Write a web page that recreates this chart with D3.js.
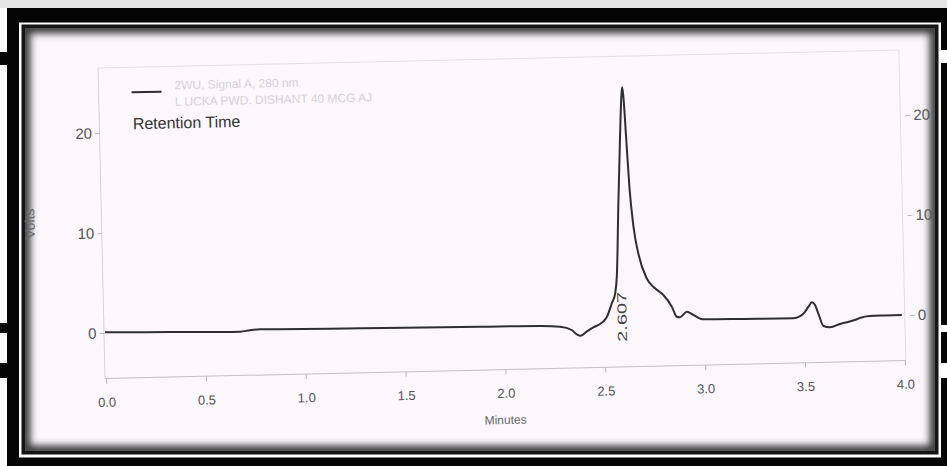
<!DOCTYPE html>
<html>
<head>
<meta charset="utf-8">
<script src="https://cdn.jsdelivr.net/npm/d3@7"></script>
<style>
html,body{margin:0;padding:0;background:#fff;overflow:hidden}
svg{display:block}
text{font-family:"Liberation Sans",Arial,Helvetica,sans-serif}
</style>
</head>
<body>
<svg id="chart" width="947" height="466"></svg>
<script>
// ---- data ----
const times = [0.000,0.325,0.676,0.726,0.776,1.126,1.502,1.877,2.178,2.278,2.336,2.361,2.381,2.411,2.445,2.479,2.505,2.514,2.540,2.558,2.568,2.584,2.600,2.611,2.616,2.621,2.630,2.641,2.657,2.678,2.717,2.758,2.799,2.840,2.864,2.880,2.915,2.947,2.997,3.200,3.445,3.496,3.524,3.541,3.557,3.572,3.597,3.630,3.680,3.715,3.765,3.780,3.830,3.900,3.990];
const volts = [0.07,-0.05,-0.17,-0.05,0.02,-0.08,-0.15,-0.22,-0.28,-0.39,-0.75,-1.19,-1.34,-0.95,-0.53,-0.21,0.24,0.50,1.83,2.82,4.48,11.8,18.5,22.5,23.4,22.5,18.5,13.45,9.44,6.77,4.25,3.23,2.54,1.35,0.34,0.28,0.82,0.48,0.02,-0.03,-0.08,0.33,1.05,1.48,1.20,0.36,-0.92,-1.06,-0.75,-0.60,-0.32,-0.20,-0.02,0.00,0.01];
const xTickValues = [0,0.5,1,1.5,2,2.5,3,3.5,4];
const xTickLabels = ["0.0","0.5","1.0","1.5","2.0","2.5","3.0","3.5","4.0"];
const yTickValues = [0,10,20];
const yTickLabels = ["0","10","20"];
const peakTime = 2.607;
const peakLabel = "2.607";
const legendLabel = "Retention Time";
const headerLines = ["2WU, Signal A, 280 nm","L UCKA PWD. DISHANT 40 MCG AJ"];
const xTitle = "Minutes";
const yTitle = "Volts";

// ---- layout ----
const W = 947, H = 466;
const svg = d3.select("#chart");
const defs = svg.append("defs");

// frame
svg.append("rect").attr("x",0).attr("y",0).attr("width",W).attr("height",H).attr("fill","#ffffff");
svg.append("rect").attr("x",0).attr("y",0).attr("width",W).attr("height",8).attr("fill","#e6e6e6");
svg.append("rect").attr("x",7).attr("y",8).attr("width",940).attr("height",458).attr("fill","#050505");
[[52,65],[323,333],[363,378]].forEach(r=>{
  svg.append("rect").attr("x",0).attr("y",r[0]).attr("width",7).attr("height",r[1]-r[0]).attr("fill","#050505");
});
[[50,63],[325,332],[363,378]].forEach(r=>{
  svg.append("rect").attr("x",940).attr("y",r[0]).attr("width",7).attr("height",r[1]-r[0]).attr("fill","#ffffff");
});
svg.append("rect").attr("x",19).attr("y",22.5).attr("width",922).attr("height",435).attr("fill","#ffffff");
svg.append("rect").attr("x",21.5).attr("y",24.5).attr("width",917).attr("height",430).attr("fill","#151515");
const inner = {x:25,y:28,w:910,h:423};
svg.append("rect").attr("x",inner.x).attr("y",inner.y).attr("width",inner.w).attr("height",inner.h).attr("fill","#fcf8fc");
defs.append("clipPath").attr("id","innerClip").append("rect")
  .attr("x",inner.x).attr("y",inner.y).attr("width",inner.w).attr("height",inner.h);
const blur = defs.append("filter").attr("id","blur").attr("x","-5%").attr("y","-5%").attr("width","110%").attr("height","110%");
blur.append("feGaussianBlur").attr("stdDeviation",3.5);
svg.append("g").attr("clip-path","url(#innerClip)")
  .append("rect").attr("x",inner.x).attr("y",inner.y).attr("width",inner.w).attr("height",inner.h)
  .attr("fill","none").attr("stroke","#3a3a3a").attr("stroke-width",11).attr("filter","url(#blur)");

// scales
const x = d3.scaleLinear().domain([0,4]).range([105,904]);
const y = d3.scaleLinear().domain([0,20]).range([333,133]);
const box = {left:104, right:905, top:68, bottom:378.5};

// chart group, slightly skewed like the scanned page
const g = svg.append("g").attr("transform",`rotate(-1.29,${x(0)},${y(0)})`);

// plot frame
g.append("line").attr("x1",box.left).attr("x2",box.right).attr("y1",box.top).attr("y2",box.top).attr("stroke","#e2dfe2");
g.append("line").attr("x1",box.right).attr("x2",box.right).attr("y1",box.top).attr("y2",box.bottom).attr("stroke","#e2dfe2");
g.append("line").attr("x1",box.left).attr("x2",box.left).attr("y1",box.top).attr("y2",box.bottom).attr("stroke","#d6d3d6");
g.append("line").attr("x1",box.left).attr("x2",box.right).attr("y1",box.bottom).attr("y2",box.bottom).attr("stroke","#c4c2c6");

// x axis
const xAxis = g.append("g").attr("transform",`translate(0,${box.bottom})`)
  .call(d3.axisBottom(x).tickValues(xTickValues).tickSize(5).tickPadding(14)
    .tickFormat((d,i)=>xTickLabels[i]));
xAxis.select(".domain").remove();
xAxis.selectAll("line").attr("stroke","#b8b8b8");
xAxis.selectAll("text").attr("fill","#555").style("font-size","13px");

// left y axis
const yAxisL = g.append("g").attr("transform",`translate(${box.left+0.5},0)`)
  .call(d3.axisLeft(y).tickValues(yTickValues).tickSize(5).tickPadding(3)
    .tickFormat((d,i)=>yTickLabels[i]));
yAxisL.select(".domain").remove();
yAxisL.selectAll("line").attr("stroke","#bdbdbd");
yAxisL.selectAll("text").attr("fill","#555").style("font-size","15px");

// right y axis
const yAxisR = g.append("g").attr("transform",`translate(${box.right+5},0)`)
  .call(d3.axisRight(y).tickValues(yTickValues).tickSize(5).tickPadding(3)
    .tickFormat((d,i)=>yTickLabels[i]));
yAxisR.select(".domain").remove();
yAxisR.selectAll("line").attr("stroke","#bdbdbd");
yAxisR.selectAll("text").attr("fill","#555").style("font-size","15px");

// trace
const pts = times.map((t,i)=>[t,volts[i]]);
g.append("path").datum(pts)
  .attr("fill","none").attr("stroke","#2f2f2f").attr("stroke-width",2).attr("stroke-linejoin","round")
  .attr("d", d3.line().x(d=>x(d[0])).y(d=>y(d[1])).curve(d3.curveMonotoneX));

// peak label
g.append("text")
  .attr("transform",`translate(${x(peakTime)+1},${y(0.45)}) rotate(-90)`)
  .attr("text-anchor","middle").attr("fill","#444")
  .attr("textLength",50).attr("lengthAdjust","spacingAndGlyphs")
  .style("font-size","13px").text(peakLabel);

// legend
g.append("line").attr("x1",137).attr("x2",167).attr("y1",93).attr("y2",93)
  .attr("stroke","#2f2f2f").attr("stroke-width",2);
g.append("text").attr("x",137.5).attr("y",130).attr("fill","#333")
  .style("font-size","16px").text(legendLabel);
headerLines.forEach((s,i)=>{
  g.append("text").attr("x",180).attr("y",91+i*16.5).attr("fill","#d6d2d7")
    .style("font-size","12px").text(s);
});

// axis titles
g.append("text").attr("x",x(2)-1).attr("y",433).attr("text-anchor","middle")
  .attr("fill","#666").style("font-size","12px").text(xTitle);
g.append("text").attr("transform",`translate(37,222) rotate(-90)`).attr("text-anchor","middle")
  .attr("fill","#666").style("font-size","14px").text(yTitle);
</script>
</body>
</html>
